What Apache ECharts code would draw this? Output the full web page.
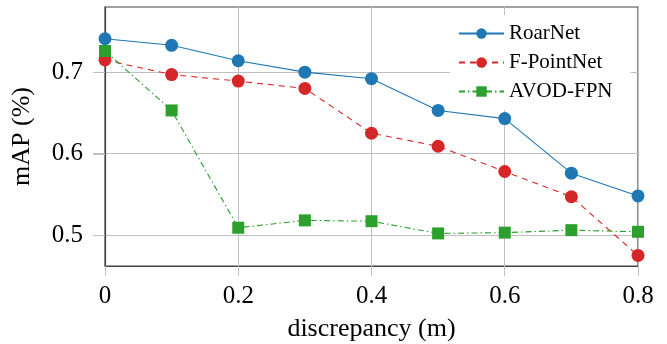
<!DOCTYPE html>
<html><head><meta charset="utf-8">
<script src="https://cdn.jsdelivr.net/npm/echarts@6/dist/echarts.min.js"></script>
<style>html,body{margin:0;padding:0;background:#fff}#c{width:667px;height:344px}</style>
</head><body><div id="c"></div>
<script>
const xValues = [0, 0.1, 0.2, 0.3, 0.4, 0.5, 0.6, 0.7, 0.8];
const roarNet = [0.741, 0.733, 0.714, 0.700, 0.692, 0.653, 0.643, 0.576, 0.548];
const fPointNet = [0.715, 0.697, 0.689, 0.680, 0.625, 0.609, 0.578, 0.547, 0.475];
const avodFpn = [0.726, 0.653, 0.509, 0.518, 0.517, 0.502, 0.503, 0.506, 0.504];
const yTicks = [0.5, 0.6, 0.7];
const xTicks = [0, 0.2, 0.4, 0.6, 0.8];
const seriesNames = ['RoarNet', 'F-PointNet', 'AVOD-FPN'];

const font = 'Liberation Serif';
const gridColor = '#c0c0c0';
function pairs(arr){ return xValues.map((x,i)=>[x, arr[i]]); }

const chart = echarts.init(document.getElementById('c'), null, {renderer:'canvas'});
chart.setOption({
  animation: false,
  backgroundColor: '#fff',
  grid: {left:105, right:29, top:7, bottom:78, show:true, borderColor:'#444', borderWidth:1.2,
         backgroundColor:'transparent', containLabel:false, outerBoundsMode:'none'},
  xAxis: {
    type:'value', min:0, max:0.8, interval:0.2,
    name:'discrepancy (m)', nameLocation:'middle', nameGap:50,
    nameTextStyle:{fontFamily:font, fontSize:26, color:'#000'},
    axisLine:{show:true, lineStyle:{color:'#444', width:1.2}},
    axisTick:{show:true, inside:false, length:10, customValues: xTicks, lineStyle:{color:gridColor, width:1}},
    axisLabel:{fontFamily:font, fontSize:25, color:'#000', margin:18, customValues: xTicks, formatter:v=>String(+v.toFixed(1))},
    splitLine:{show:true, lineStyle:{color:gridColor, width:1}}
  },
  yAxis: {
    type:'value', min:0.462, max:0.78,
    axisLine:{show:true, lineStyle:{color:'#444', width:1.2}},
    axisTick:{show:true, inside:false, length:12, lineStyle:{color:gridColor, width:1}, customValues: yTicks},
    axisLabel:{fontFamily:font, fontSize:25, color:'#000', margin:22, customValues: yTicks, formatter:v=>v.toFixed(1)},
    name:'mAP (%)', nameLocation:'middle', nameGap:70, nameRotate:90,
    nameTextStyle:{fontFamily:font, fontSize:26, color:'#000'},
    splitLine:{show:true, lineStyle:{color:gridColor, width:1}}
  },
  legend: {
    data: seriesNames, orient:'vertical', left:450, top:15,
    padding:[8,18,8,8], itemGap:8, itemWidth:45, itemHeight:13,
    backgroundColor:'#fff', borderWidth:0,
    textStyle:{fontFamily:font, fontSize:21, color:'#000'}
  },
  series: [
    {name:seriesNames[0], type:'line', data:pairs(roarNet), symbol:'circle', symbolSize:13,
     itemStyle:{color:'#1f77b4'}, lineStyle:{color:'#1f77b4', width:1.1, type:'solid'}, z:3},
    {name:seriesNames[1], type:'line', data:pairs(fPointNet), symbol:'circle', symbolSize:13,
     itemStyle:{color:'#d62728'}, lineStyle:{color:'#d62728', width:1.1, type:[6,5]}, z:3},
    {name:seriesNames[2], type:'line', data:pairs(avodFpn), symbol:'rect', symbolSize:12,
     itemStyle:{color:'#2ca02c'}, lineStyle:{color:'#2ca02c', width:1.1, type:[6,3,1.5,3]}, z:3}
  ]
});
// outward y ticks, positioned through the axis scale
const x0 = chart.convertToPixel({xAxisIndex:0}, 0);
chart.setOption({
  graphic: yTicks.map(v => {
    const py = Math.round(chart.convertToPixel({yAxisIndex:0}, v)) + 0.5;
    return {type:'line', silent:true, z:0,
            shape:{x1:x0-12, y1:py, x2:x0, y2:py},
            style:{stroke:gridColor, lineWidth:1}};
  })
});
</script></body></html>
